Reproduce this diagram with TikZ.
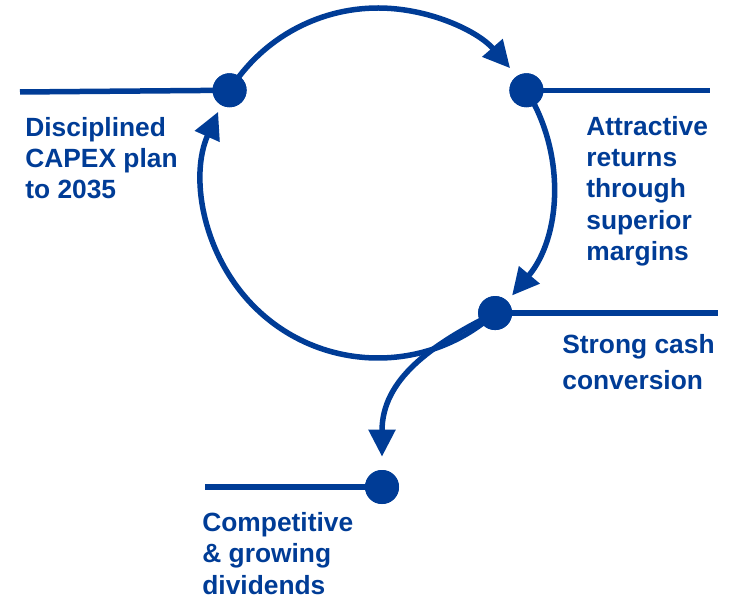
\documentclass[tikz,border=0pt]{standalone}
\usepackage{fontspec}
\setmainfont{Liberation Sans}
\usetikzlibrary{arrows.meta}
\usetikzlibrary{positioning}
\usetikzlibrary{calc}
\definecolor{navy}{RGB}{0,60,150}
\tikzset{flow/.style={draw=navy,line width=0.11cm}}
\tikzset{tip/.style={-{Triangle[length=0.54cm,width=0.52cm]}}}
\tikzset{dot/.style={circle,fill=navy,minimum size=0.68cm,inner sep=0pt}}
\tikzset{lbl/.style={anchor=north west,inner sep=0pt,align=left,text=navy,
  font=\bfseries\fontsize{15pt}{17.8pt}\selectfont}}

\begin{document}
\begin{tikzpicture}[x=0.02cm,y=0.02cm]
\useasboundingbox (0,0) rectangle (732,-597);
\coordinate (C) at (378,-183);

\node[dot] (capex) at ($(C)+(148:175)$) {};
\node[dot] (returns) at ($(C)+(32:175)$) {};
\node[dot] (cash) at ($(C)+(-48:175)$) {};
\node[dot] (div) at (382,-487) {};

\coordinate (capexL) at (20,-92);
\coordinate (returnsR) at (710,-92);
\coordinate (cashR) at (718,-314);
\coordinate (divL) at (205,-487);

\draw[flow] (capexL) -- (capex.center);
\draw[flow] (returns.center) -- (returns.center -| returnsR);
\draw[flow] (cash.center) -- (cash.center -| cashR);
\draw[flow] (divL) -- (div.center);

\draw[flow,tip] (capex.center) arc[start angle=148,end angle=41,radius=175];
\draw[flow,tip] (returns.center) arc[start angle=32,end angle=-40,radius=175];
\draw[flow,tip] (cash.center) arc[start angle=-48,end angle=-204,radius=175];
\draw[flow,tip] (cash.center) .. controls (430,-345) and (382,-380) .. ([yshift=0.26cm]div.north);

\node[dot] at (capex) {};
\node[dot] at (returns) {};
\node[dot] at (cash) {};
\node[dot] at (div) {};

\node[lbl] (capexT) at (25,-117) {Disciplined\\CAPEX plan\\to 2035};
\node[lbl] (returnsT) at (586,-116) {Attractive\\returns\\through\\superior\\margins};
\node[lbl,font=\bfseries\fontsize{15pt}{20.8pt}\selectfont] (cashT) at (562,-334) {Strong cash\\conversion};
\node[lbl] (divT) at (202,-512) {Competitive\\\& growing\\dividends};
\end{tikzpicture}
\end{document}
